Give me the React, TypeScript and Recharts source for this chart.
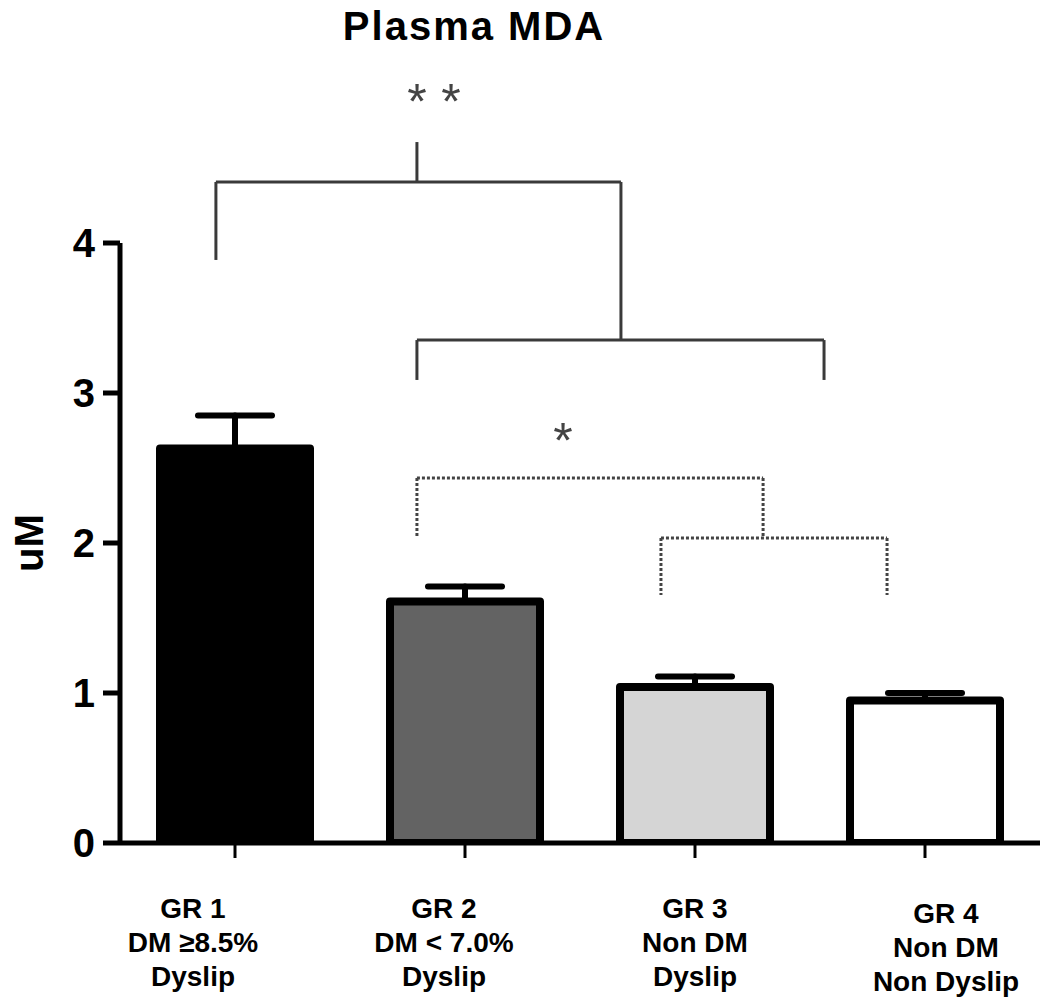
import {
  BarChart,
  Bar,
  Cell,
  XAxis,
  YAxis,
  ErrorBar,
  ReferenceLine,
  ReferenceDot,
  Label,
} from 'recharts';

const FONT = "'Liberation Sans', Arial, sans-serif";

// groups
const positions = [1, 2, 3, 4];
const groupNames = ['GR 1', 'GR 2', 'GR 3', 'GR 4'];
const groupLine2 = ['DM \u22658.5%', 'DM < 7.0%', 'Non DM', 'Non DM'];
const groupLine3 = ['Dyslip', 'Dyslip', 'Dyslip', 'Non Dyslip'];

// plasma MDA (uM), mean and SEM
const mdaMean = [2.63, 1.61, 1.04, 0.95];
const mdaSem = [0.22, 0.1, 0.07, 0.05];
const barFills = ['#000000', '#636363', '#d5d5d5', '#ffffff'];

const yTicks = [0, 1, 2, 3, 4];

// significance brackets, in chart units (x = group position, y = uM)
const solidBracket = [
  [{ x: 1.791, y: 4.673 }, { x: 1.791, y: 4.407 }],
  [{ x: 0.917, y: 4.407 }, { x: 2.678, y: 4.407 }],
  [{ x: 0.917, y: 4.407 }, { x: 0.917, y: 3.887 }],
  [{ x: 2.678, y: 4.407 }, { x: 2.678, y: 3.353 }],
  [{ x: 1.791, y: 3.353 }, { x: 3.561, y: 3.353 }],
  [{ x: 1.791, y: 3.353 }, { x: 1.791, y: 3.087 }],
  [{ x: 3.561, y: 3.353 }, { x: 3.561, y: 3.087 }],
];

const dottedBracket = [
  [{ x: 1.791, y: 2.433 }, { x: 3.296, y: 2.433 }],
  [{ x: 1.791, y: 2.433 }, { x: 1.791, y: 2.04 }],
  [{ x: 3.296, y: 2.433 }, { x: 3.296, y: 2.033 }],
  [{ x: 2.852, y: 2.033 }, { x: 3.835, y: 2.033 }],
  [{ x: 2.852, y: 2.033 }, { x: 2.852, y: 1.653 }],
  [{ x: 3.835, y: 2.033 }, { x: 3.835, y: 1.653 }],
];

const starX = [1.791, 1.939, 2.426];
const starY = [4.826, 4.826, 2.567];

const rows = positions.map((pos, i) => ({
  pos,
  name: groupNames[i],
  value: mdaMean[i],
  err: [0, mdaSem[i]],
}));

function GroupTick(props: any) {
  const { x, y, payload } = props;
  const i = positions.indexOf(payload.value);
  if (i < 0) return null;
  const dx = (i - 2) * 21;
  const dy = i === 3 ? 5 : 0;
  const lines = [groupNames[i], groupLine2[i], groupLine3[i]];
  return (
    <g>
      {lines.map((t, k) => (
        <text
          key={k}
          x={x + dx}
          y={y + 58 + dy + k * 34}
          textAnchor="middle"
          fontFamily={FONT}
          fontWeight="bold"
          fontSize={28}
          fill="#000"
        >
          {t}
        </text>
      ))}
    </g>
  );
}

function Star(props: any) {
  return (
    <text
      x={props.cx}
      y={props.cy}
      textAnchor="middle"
      fontFamily={FONT}
      fontSize={50}
      fill="#444"
    >
      *
    </text>
  );
}

export default function App() {
  return (
    <div style={{ position: 'absolute', left: 0, top: 0, width: 1050, height: 1001, background: '#fff' }}>
      <div
        style={{
          position: 'absolute',
          left: 0,
          top: 6,
          width: 948,
          textAlign: 'center',
          fontFamily: FONT,
          fontWeight: 'bold',
          fontSize: 40,
          lineHeight: '40px',
          letterSpacing: 2,
          color: '#000',
        }}
      >
        Plasma MDA
      </div>
      <BarChart
        width={1050}
        height={1001}
        data={rows}
        margin={{ top: 243, right: 10, bottom: 8, left: 0 }}
      >
        <XAxis
          type="number"
          dataKey="pos"
          domain={[0.5, 4.5]}
          ticks={positions}
          allowDataOverflow
          height={150}
          tickSize={15}
          tickLine={{ stroke: '#000', strokeWidth: 3 }}
          axisLine={{ stroke: '#000', strokeWidth: 5 }}
          tick={<GroupTick />}
        />
        <YAxis
          type="number"
          domain={[0, 4]}
          ticks={yTicks}
          allowDataOverflow
          width={120}
          tickSize={17}
          tickMargin={8}
          tickLine={{ stroke: '#000', strokeWidth: 5 }}
          axisLine={{ stroke: '#000', strokeWidth: 5 }}
          tick={{ fontSize: 40, fontWeight: 'bold', fill: '#000', fontFamily: FONT }}
        >
          <Label
            content={(p: any) => {
              const vb = p.viewBox;
              const cx = vb.x + 43;
              const cy = vb.y + vb.height / 2;
              return (
                <text
                  x={cx}
                  y={cy}
                  transform={`rotate(-90, ${cx}, ${cy})`}
                  textAnchor="middle"
                  fontFamily={FONT}
                  fontWeight="bold"
                  fontSize={40}
                  fill="#000"
                >
                  uM
                </text>
              );
            }}
          />
        </YAxis>
        <Bar
          dataKey="value"
          barSize={150}
          stroke="#000"
          strokeWidth={8}
          strokeLinejoin="round"
          isAnimationActive={false}
        >
          {rows.map((r, i) => (
            <Cell key={r.name} fill={barFills[i]} />
          ))}
          <ErrorBar
            dataKey="err"
            direction="y"
            width={37}
            stroke="#000"
            strokeWidth={6}
            strokeLinecap="round"
            isAnimationActive={false}
          />
        </Bar>
        {solidBracket.map((seg, i) => (
          <ReferenceLine
            key={`s${i}`}
            segment={seg}
            stroke="#3a3a3a"
            strokeWidth={3}
            ifOverflow="visible"
          />
        ))}
        {dottedBracket.map((seg, i) => (
          <ReferenceLine
            key={`d${i}`}
            segment={seg}
            stroke="#444"
            strokeWidth={3}
            strokeDasharray="3 2"
            ifOverflow="visible"
          />
        ))}
        {starX.map((sx, i) => (
          <ReferenceDot
            key={`st${i}`}
            x={sx}
            y={starY[i]}
            r={0}
            ifOverflow="visible"
            shape={<Star />}
          />
        ))}
      </BarChart>
    </div>
  );
}
